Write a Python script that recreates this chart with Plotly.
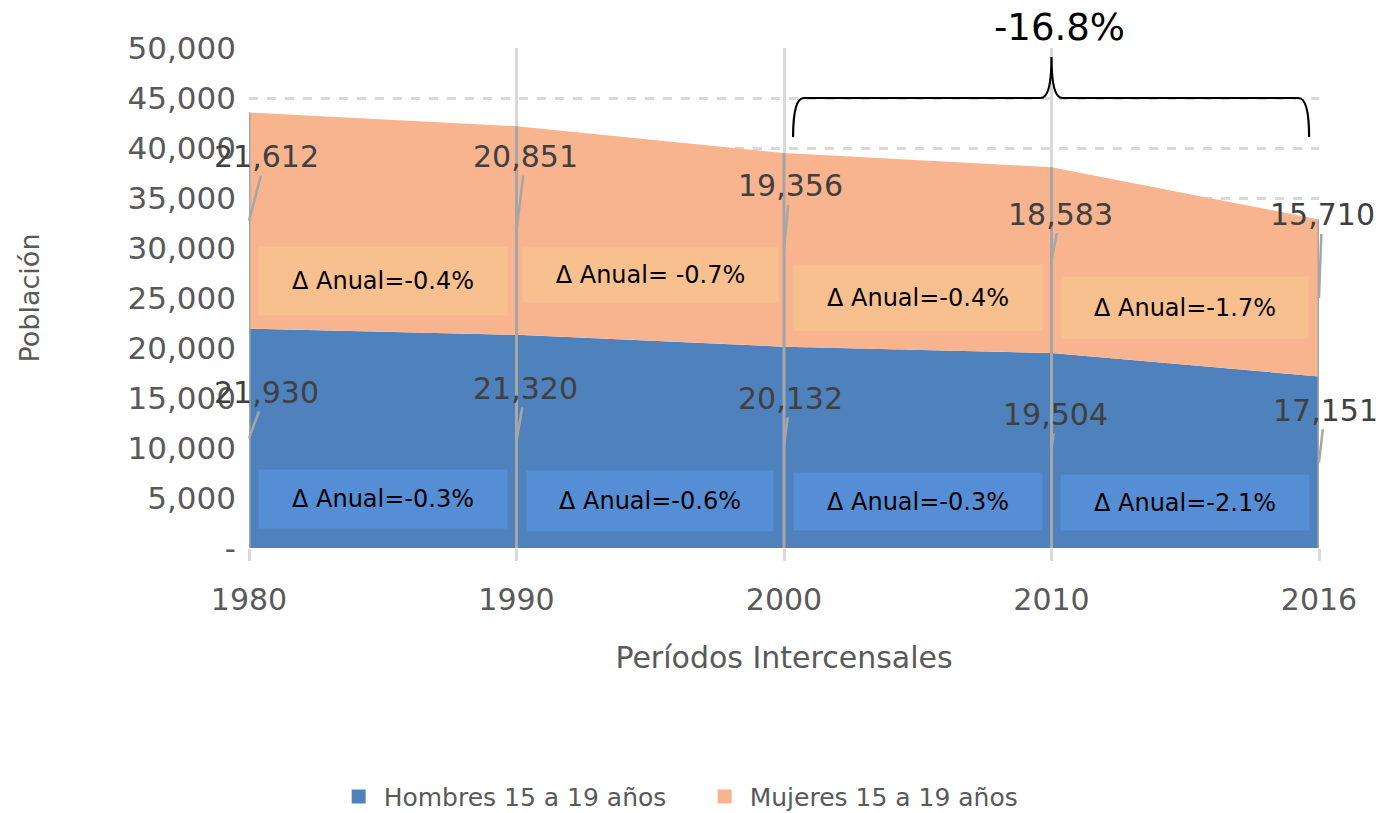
import plotly.graph_objects as go

years = ["1980", "1990", "2000", "2010", "2016"]
hombres = [21930, 21320, 20132, 19504, 17151]
mujeres = [21612, 20851, 19356, 18583, 15710]
delta_muj = ["Δ Anual=-0.4%", "Δ Anual= -0.7%", "Δ Anual=-0.4%", "Δ Anual=-1.7%"]
delta_hom = ["Δ Anual=-0.3%", "Δ Anual=-0.6%", "Δ Anual=-0.3%", "Δ Anual=-2.1%"]
total_change = "-16.8%"
y_ticks = [0, 5000, 10000, 15000, 20000, 25000, 30000, 35000, 40000, 45000, 50000]
y_ticktext = ["-"] + [f"{v:,}" for v in y_ticks[1:]]

FONT = "DejaVu Sans"
C_BLUE = "#4F81BD"
C_ORANGE = "#F7B48F"
C_BOX_O = "#F9C08F"
C_BOX_B = "#558ED5"
GRAY_TXT = "#595959"
LBL_TXT = "#404040"

xs = list(range(len(years)))
totals = [h + m for h, m in zip(hombres, mujeres)]

fig = go.Figure()
fig.add_trace(go.Scatter(x=xs, y=hombres, name="Hombres 15 a 19 años", stackgroup="one",
                         mode="lines", line=dict(width=0, color=C_BLUE), fillcolor=C_BLUE,
                         showlegend=False))
fig.add_trace(go.Scatter(x=xs, y=mujeres, name="Mujeres 15 a 19 años", stackgroup="one",
                         mode="lines", line=dict(width=0, color=C_ORANGE), fillcolor=C_ORANGE,
                         showlegend=False))
# legend entries (square swatches)
for nm, col in (("Hombres 15 a 19 años", C_BLUE), ("Mujeres 15 a 19 años", C_ORANGE)):
    fig.add_trace(go.Scatter(x=[None], y=[None], name=nm, mode="markers",
                             marker=dict(symbol="square", size=14, color=col)))

# drop lines
for i, t in enumerate(totals):
    fig.add_shape(type="line", x0=i, x1=i, y0=0, y1=t, xref="x", yref="y",
                  line=dict(color="#A6A6A6", width=3), layer="above")

# data labels with leader lines (pixel offsets of label from band midpoint)
muj_off = [(17, -64), (9, -74), (6, -64), (9, -46), (3, -83)]
hom_off = [(17, -46), (9, -53), (6, -49), (4, -36), (6, -52)]
for i in xs:
    mid_m = hombres[i] + mujeres[i] / 2
    mid_h = hombres[i] / 2
    for val, mid, off in ((mujeres[i], mid_m, muj_off[i]), (hombres[i], mid_h, hom_off[i])):
        fig.add_annotation(x=i, y=mid, xref="x", yref="y", text=f"{val:,}",
                           showarrow=True, arrowhead=0, arrowwidth=2.5, arrowcolor="#A6A6A6",
                           ax=off[0], ay=off[1], font=dict(family=FONT, size=30, color=LBL_TXT),
                           standoff=0, startstandoff=0)

# delta boxes
box_o = [(26700, 248, 68), (27300, 255, 54), (25100, 248, 65), (24100, 246, 61)]
box_b = [(4900, 248, 58), (4700, 246, 60), (4700, 248, 57), (4600, 248, 55)]
for k in range(4):
    y, w, h = box_o[k]
    fig.add_annotation(x=k + 0.5, y=y, xref="x", yref="y", text=delta_muj[k], showarrow=False,
                       bgcolor=C_BOX_O, width=w, height=h, borderpad=0,
                       font=dict(family=FONT, size=24, color="black"))
    y, w, h = box_b[k]
    fig.add_annotation(x=k + 0.5, y=y, xref="x", yref="y", text=delta_hom[k], showarrow=False,
                       bgcolor=C_BOX_B, width=w, height=h, borderpad=0,
                       font=dict(family=FONT, size=24, color="black"))

# brace from 2000 to 2016
xl, xr, xc = 2.034, 3.963, 3.0
yb, yh, yt = 41100, 45000, 49100
path = (f"M {xl},{yb} Q {xl},{yh} {xl+0.04},{yh} L {xc-0.04},{yh} Q {xc},{yh} {xc},{yt} "
        f"Q {xc},{yh} {xc+0.04},{yh} L {xr-0.04},{yh} Q {xr},{yh} {xr},{yb}")
fig.add_shape(type="path", path=path, xref="x", yref="y", line=dict(color="black", width=2.2))
fig.add_annotation(x=xc, y=49100, xref="x", yref="y", text=total_change, showarrow=False,
                   yanchor="bottom", yshift=6, xshift=8,
                   font=dict(family=FONT, size=37, color="black"))

fig.update_layout(
    width=1380, height=813,
    margin=dict(l=249, r=61, t=48, b=265),
    plot_bgcolor="white", paper_bgcolor="white",
    font=dict(family=FONT, color=GRAY_TXT),
    showlegend=True,
    legend=dict(orientation="h", xref="container", yref="container",
                x=0.507, xanchor="center", y=0.02, yanchor="middle",
                traceorder="normal", font=dict(size=25, color=GRAY_TXT), itemwidth=40,
                entrywidth=311, tracegroupgap=0),
    xaxis=dict(range=[0, 4], tickvals=xs, ticktext=years, showgrid=True, gridcolor="#D9D9D9",
               gridwidth=2.5, ticks="outside", ticklen=12, tickcolor="#D9D9D9", tickwidth=2.5,
               zeroline=False, showline=False, tickfont=dict(size=30, color=GRAY_TXT),
               ticklabelstandoff=13,
               title=dict(text="Períodos Intercensales", font=dict(size=30, color=GRAY_TXT),
                          standoff=30)),
    yaxis=dict(range=[0, 50000], tickvals=y_ticks, ticktext=y_ticktext, showgrid=True,
               gridcolor="#D9D9D9", gridwidth=2.5, griddash="dash", zeroline=False,
               tickfont=dict(size=31, color=GRAY_TXT), ticklabelstandoff=12,
               title=dict(text="Población", font=dict(size=27, color=GRAY_TXT), standoff=80)),
)

fig.write_html("out.html", config={"displayModeBar": False},
               post_script="document.body.style.margin='0px';")
